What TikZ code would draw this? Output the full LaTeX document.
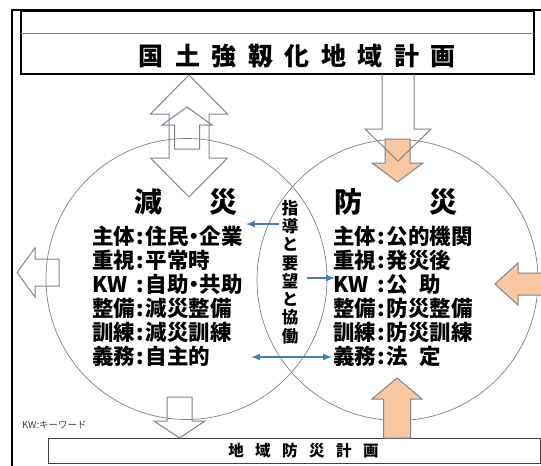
\documentclass[tikz,border=0pt]{standalone}
\usepackage{fontspec}
\setmainfont{Noto Sans CJK JP}
\definecolor{peach}{RGB}{249,200,160}
\definecolor{edgegray}{RGB}{125,133,143}
\definecolor{linkblue}{RGB}{70,124,186}
\newcommand{\kolon}{\makebox[0.5em]{:}}
\newcommand{\naka}{\makebox[0.5em]{・}}
\tikzset{
  outline/.style={draw=edgegray, line width=1pt},
  peacharrow/.style={outline, fill=peach},
  ring/.style={draw=gray, line width=0.7pt},
  link/.style={draw=linkblue, line width=2pt},
  body/.style={font=\bfseries\fontsize{21.5}{24}\selectfont, anchor=west, inner sep=0pt},
  heading/.style={font=\bfseries\fontsize{28}{30}\selectfont, anchor=west, inner sep=0pt}
}
\begin{document}
\begin{tikzpicture}[x=1pt,y=-1pt]
  \useasboundingbox (0,0) rectangle (541,466);
  % frame and plans
  \draw[line width=1.5pt] (12,470) -- (12,10) -- (545,10);
  \draw[line width=1.2pt] (21,11) rectangle (534,74);
  \draw[line width=0.8pt, gray] (21,33) -- (534,33);
  \node[font=\bfseries\fontsize{25}{27}\selectfont] (kyojin) at (297,56)
    {国\hspace{11.5pt}土\hspace{11.5pt}強\hspace{11.5pt}靱\hspace{11.5pt}化\hspace{11.5pt}地\hspace{11.5pt}域\hspace{11.5pt}計\hspace{11.5pt}画};
  \draw[line width=1pt, darkgray] (48,438) rectangle (540,463);
  \node[font=\bfseries\fontsize{15.5}{17}\selectfont] (chiiki) at (303.5,451)
    {地\hspace{11.5pt}域\hspace{11.5pt}防\hspace{11.5pt}災\hspace{11.5pt}計\hspace{11.5pt}画};
  \node[font=\fontsize{9.5}{11}\selectfont, text=darkgray, anchor=west, inner sep=0pt] (kw) at (22,425) {KW:キーワード};
  % circles
  \draw[ring] (186.5,279) circle (140.5);
  \draw[ring] (397.5,280) circle (140.5);
  % block arrows
  \begin{scope}[outline]
    \draw (189,75) -- (227.5,114) -- (209,114) -- (209,158) -- (227.5,158) -- (189,197)
      -- (150.5,158) -- (169,158) -- (169,114) -- (150.5,114) -- cycle;
    \draw (187,107) -- (212,125) -- (199.5,125) -- (199.5,149) -- (174.5,149) -- (174.5,125)
      -- (162,125) -- cycle;
    \draw (17,272.5) -- (35,248) -- (35,259) -- (59,259) -- (59,286) -- (35,286) -- (35,297) -- cycle;
    \draw (167,397) -- (192,397) -- (192,421) -- (205,421) -- (179.5,438) -- (154,421)
      -- (167,421) -- cycle;
  \end{scope}
  \draw[peacharrow] (385,139) -- (410,139) -- (410,163) -- (423,163) -- (397.5,182)
    -- (372,163) -- (385,163) -- cycle;
  \draw[outline] (382,74) -- (382,129) -- (365,129) -- (398,161) -- (431,129) -- (414,129) -- (414,74);
  \draw[peacharrow] (495,284) -- (518,263) -- (518,273) -- (546,273) -- (546,295) -- (518,295)
    -- (518,305) -- cycle;
  \draw[peacharrow] (397,378) -- (422,399) -- (410.5,399) -- (410.5,438) -- (383.5,438)
    -- (383.5,399) -- (372,399) -- cycle;
  % gensai
  \node[heading] (gensai) at (134,202) {減\hspace{47pt}災};
  \path
    (92,236) node[body] (g1) {主体\kolon 住民\naka 企業}
    (92,260) node[body] (g2) {重視\kolon 平常時}
    (92,284) node[body] (g3) {\makebox[2em][l]{KW}\kolon 自助\naka 共助}
    (92,308) node[body] (g4) {整備\kolon 減災整備}
    (92,332) node[body] (g5) {訓練\kolon 減災訓練}
    (92,356) node[body] (g6) {義務\kolon 自主的};
  % bousai
  \node[heading] (bousai) at (334,202) {防\hspace{67pt}災};
  \path
    (333,236) node[body] (b1) {主体\kolon 公的機関}
    (333,260) node[body] (b2) {重視\kolon 発災後}
    (333,284) node[body] (b3) {\makebox[2em][l]{KW}\kolon 公\hspace{0.5em}助}
    (333,308) node[body] (b4) {整備\kolon 防災整備}
    (333,332) node[body] (b5) {訓練\kolon 防災訓練}
    (333,356) node[body] (b6) {義務\kolon 法\hspace{0.5em}定};
  % kyodo
  \node[font=\bfseries\fontsize{16.5}{18.3}\selectfont, align=center, inner sep=0pt] (kyodo) at (290,272)
    {指\\導\\と\\要\\望\\と\\協\\働};
  \coordinate (s1) at (279,224);
  \coordinate (t1) at (246,224);
  \coordinate (s2) at (307,278);
  \coordinate (t2) at (335,278);
  \coordinate (s3) at (251,357);
  \coordinate (t3) at (332,357);
  \draw[link, -latex] (s1) -- (t1);
  \draw[link, -latex] (s2) -- (t2);
  \draw[link, latex-latex] (s3) -- (t3);
\end{tikzpicture}
\end{document}
